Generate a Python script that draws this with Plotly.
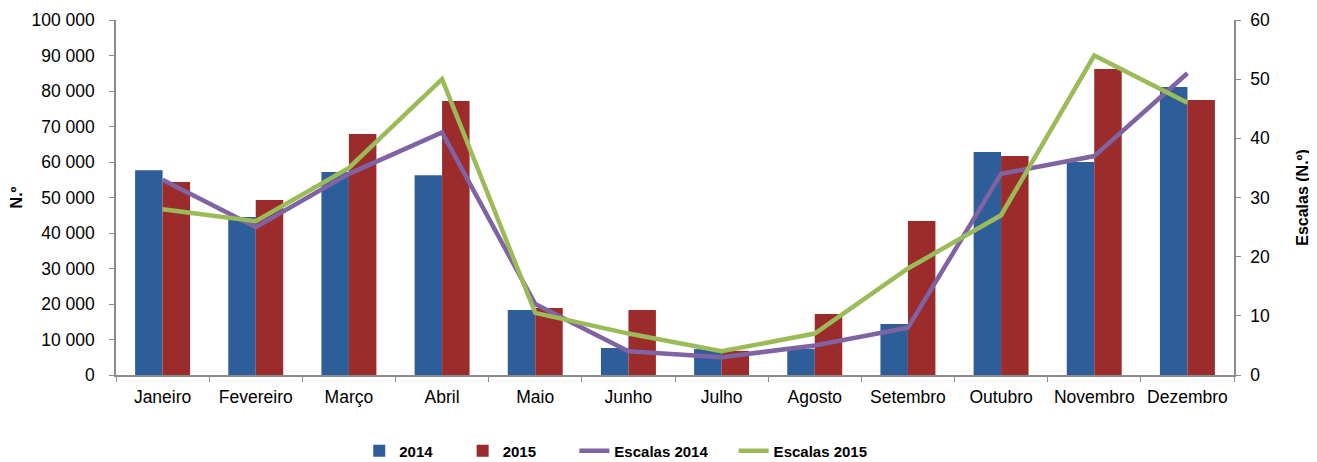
import plotly.graph_objs as go

meses = ["Janeiro", "Fevereiro", "Março", "Abril", "Maio", "Junho", "Julho",
         "Agosto", "Setembro", "Outubro", "Novembro", "Dezembro"]
n_2014 = [57700, 44500, 57200, 56300, 18300, 7600, 7300, 7400, 14400, 62800, 60000, 81100]
n_2015 = [54400, 49300, 67900, 77200, 18900, 18300, 6800, 17200, 43400, 61700, 86200, 77500]
escalas_2014 = [33, 25, 34, 41, 12, 4, 3, 5, 8, 34, 37, 51]
escalas_2015 = [28, 26, 35, 50, 10.5, 7, 4, 7, 18, 27, 54, 46]

font = "Liberation Sans, Arial, sans-serif"
nb = "\u00a0"

fig = go.Figure()
fig.add_trace(go.Bar(name="<b>2014</b>" + nb * 6, x=meses, y=n_2014,
                     marker=dict(color="#2D5E99", line_width=0)))
fig.add_trace(go.Bar(name="<b>2015</b>" + nb * 8, x=meses, y=n_2015,
                     marker=dict(color="#9C2B2B", line_width=0)))
fig.add_trace(go.Scatter(name="<b>Escalas 2014</b>" + nb * 5, x=meses, y=escalas_2014,
                         yaxis="y2", mode="lines", line=dict(color="#7F63A2", width=4.5)))
fig.add_trace(go.Scatter(name="<b>Escalas 2015</b>", x=meses, y=escalas_2015,
                         yaxis="y2", mode="lines", line=dict(color="#9BBB59", width=4.5)))

axis_line = dict(showline=True, linecolor="#8C8C8C", linewidth=1.5, ticks="outside",
                 tickcolor="#8C8C8C", ticklen=5, showgrid=False, zeroline=False,
                 automargin=False)

# page body adds an 8px offset, so the figure is 8px smaller and margins shifted
fig.update_layout(
    width=1309, height=454,
    margin=dict(l=108, r=83, t=12, b=87, autoexpand=False),
    plot_bgcolor="white", paper_bgcolor="white",
    separators=". ",
    barmode="group", bargap=0.41, bargroupgap=0,
    font=dict(family=font, size=17.5, color="black"),
    xaxis=dict(**axis_line, tickson="boundaries", ticklabelstandoff=5),
    yaxis=dict(**axis_line, range=[0, 100000], dtick=10000, tickformat=",d",
               ticklabelstandoff=11,
               title=dict(text="<b>N.º</b>", font=dict(size=16), standoff=9)),
    yaxis2=dict(**axis_line, overlaying="y", side="right", range=[0, 60], dtick=10,
                ticklabelstandoff=6,
                title=dict(text="<b>Escalas (N.º)</b>", font=dict(size=16), standoff=28)),
    legend=dict(orientation="h", x=0.447, xanchor="center", y=-0.214, yanchor="middle",
                font=dict(family=font, size=15, color="black"),
                itemwidth=30, traceorder="normal"),
)

fig.write_html("out.html")
